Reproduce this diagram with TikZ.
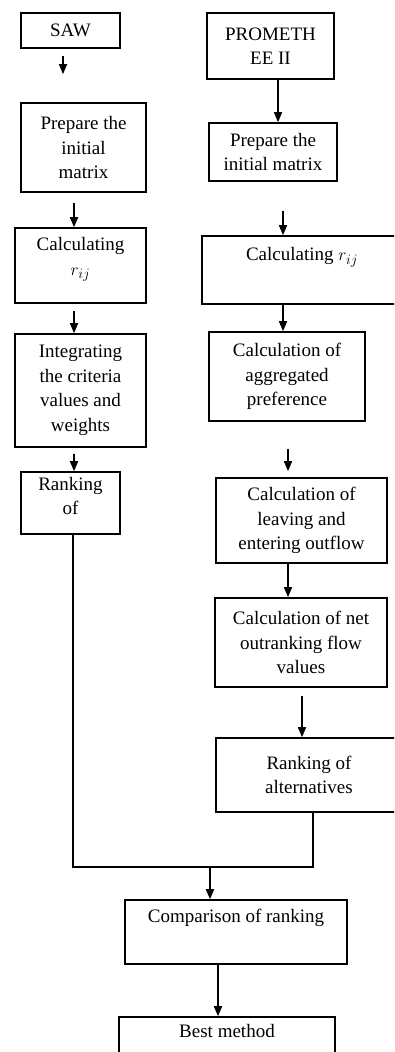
\documentclass[tikz,border=0pt]{standalone}
\usepackage{fontspec}
\setmainfont{Liberation Serif}
\usepackage{tikz}
\usetikzlibrary{arrows.meta,positioning}

\begin{document}
\begin{tikzpicture}[x=1pt,y=-1pt,>={Triangle[width=8pt,length=10pt]},
    box/.style={draw,line width=1.6pt,align=center,inner sep=2pt,
      font=\fontsize{19}{24.5}\selectfont},
    link/.style={line width=1.6pt}]
                \useasboundingbox (0,0) rectangle (394,1052);
                \clip (0,0) rectangle (394,1052);
                % SAW column
                \node[box,minimum width=99pt,minimum height=35pt]  (saw)   at (70.5,30.5)  {SAW};
                \node[box,minimum width=125pt,minimum height=89pt] (prep1) at (83.5,147.5) {Prepare the\\initial\\matrix};
                \node[box,minimum width=131pt,minimum height=75pt] (calc1) at (80.5,265.5) {Calculating\\$r_{ij}$\\[-6pt]};
                \node[box,minimum width=131pt,minimum height=113pt] (integ) at (80.5,390.5) {Integrating\\the criteria\\values and\\weights};
                \node[box,minimum width=99pt,minimum height=62pt]  (rank1) at (70.5,503)   {Ranking\\of\\[-10pt]};
                % PROMETHEE II column
                \node[box,minimum width=127pt,minimum height=66pt] (prom)  at (270.5,46)   {PROMETH\\EE II};
                \node[box,minimum width=128pt,minimum height=58pt] (prep2) at (273,152)    {Prepare the\\initial matrix};
                \node[box,minimum width=200pt,minimum height=68pt] (calc2) at (302,270)    {Calculating $r_{ij}$\\ \strut};
                \node[box,minimum width=156pt,minimum height=89pt] (aggr)  at (287,376.5)  {Calculation of\\aggregated\\preference};
                \node[box,minimum width=171pt,minimum height=85pt] (leave) at (301.5,520.5) {Calculation of\\leaving and\\entering outflow};
                \node[box,minimum width=172pt,minimum height=89pt] (net)   at (301,642.5)  {Calculation of net\\outranking flow\\values};
                \node[box,minimum width=186pt,minimum height=74pt] (rank2) at (309,775)    {Ranking of\\alternatives};
                % common part
                \node[box,minimum width=222pt,minimum height=64pt] (comp)  at (236,932)    {Comparison of ranking\\ \strut};
                \node[box,minimum width=216pt,minimum height=60pt] (best)  at (227,1047)   {Best method\\ \strut};
                \coordinate (merge) at (210,867);
                \path[->,link]
                    ([xshift=-7.5pt]saw.south) edge[shorten <=7pt,shorten >=28pt] ([xshift=-7.5pt]saw.south |- prep1.north)
                    ([xshift=-9.5pt]prep1.south) edge[shorten <=10pt] ([xshift=-9.5pt]prep1.south |- calc1.north)
                    ([xshift=-6.5pt]calc1.south) edge[shorten <=7pt] ([xshift=-6.5pt]calc1.south |- integ.north)
                    ([xshift=-6.5pt]integ.south) edge[shorten <=6pt] ([xshift=-6.5pt]integ.south |- rank1.north)
                    ([xshift=7.5pt]prom.south) edge ([xshift=7.5pt]prom.south |- prep2.north)
                    ([xshift=10pt]prep2.south) edge[shorten <=29pt] ([xshift=10pt]prep2.south |- calc2.north)
                    ([xshift=-19pt]calc2.south) edge ([xshift=-19pt]calc2.south |- aggr.north)
                    ([xshift=1pt]aggr.south) edge[shorten <=27pt,shorten >=6pt] ([xshift=1pt]aggr.south |- leave.north)
                    ([xshift=-13.5pt]leave.south) edge ([xshift=-13.5pt]leave.south |- net.north)
                    ([xshift=1pt]net.south) edge[shorten <=8pt] ([xshift=1pt]net.south |- rank2.north)
                    (merge) edge (merge |- comp.north)
                    ([xshift=-18pt]comp.south) edge ([xshift=-18pt]comp.south |- best.north)
                ;
                \draw[link] ([xshift=2.5pt]rank1.south) |- (merge) -| ([xshift=4pt]rank2.south);
            \end{tikzpicture}
\end{document}
